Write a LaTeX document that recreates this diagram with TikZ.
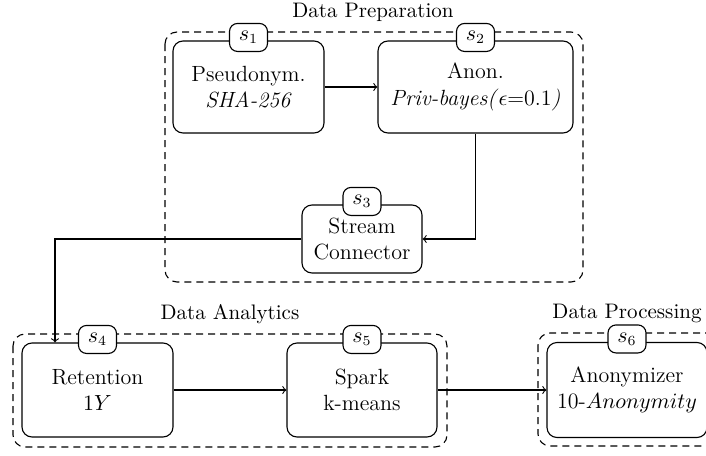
\documentclass[tikz,border=0pt]{standalone}
\usetikzlibrary{calc}
\begin{document}
\begin{tikzpicture}[x=0.5pt,y=-0.5pt, line width=0.55pt,
  stage/.style={draw, rounded corners=5pt, align=center, fill=white, inner sep=2pt, font=\fontsize{11}{13.2}\selectfont},
  tag/.style={draw, rounded corners=4pt, fill=white, minimum width=19pt, minimum height=14pt, inner sep=1pt, yshift=1.5pt, font=\fontsize{10.5}{12.6}\selectfont},
  groupbox/.style={draw, dash pattern=on 3.5pt off 2.5pt, rounded corners=6pt},
  grouplabel/.style={inner sep=0pt, font=\fontsize{10.5}{12.6}\selectfont},
  conn/.style={->}]
\useasboundingbox (0,0) rectangle (706,455);
\clip (0,0) rectangle (706,455);
% groups
\draw[groupbox] (165,32) rectangle (583,282);
\draw[groupbox] (13,334) rectangle (447,447);
\draw[groupbox] (538,333) rectangle (730,446);
\node[grouplabel] (lprep) at (373,12) {Data Preparation};
\node[grouplabel] (lana) at (230,314) {Data Analytics};
\node[grouplabel] (lproc) at (627,313) {Data Processing};
% stages
\node[stage, minimum width=75.5pt, minimum height=46pt] (s1) at (248.5,87) {Pseudonym.\\ \textit{SHA-256}};
\node[stage, minimum width=97.5pt, minimum height=46pt] (s2) at (475.5,87) {Anon.\\ \textit{Priv-bayes(}$\epsilon${=}0.1\textit{)}};
\node[stage, minimum width=60pt, minimum height=34pt] (s3) at (362,239) {Stream\\ Connector};
\node[stage, minimum width=75.5pt, minimum height=47pt] (s4) at (97.5,390) {Retention\\ $1Y$};
\node[stage, minimum width=75pt, minimum height=47pt] (s5) at (362,390) {Spark\\ k-means};
\node[stage, minimum width=80pt, minimum height=47.5pt] (s6) at (627,390) {Anonymizer\\ 10-$Anonymity$};
% tags
\node[tag] (t1) at (s1.north) {$s_1$};
\node[tag] (t2) at (s2.north) {$s_2$};
\node[tag] (t3) at (s3.north) {$s_3$};
\node[tag] (t4) at (s4.north) {$s_4$};
\node[tag] (t5) at (s5.north) {$s_5$};
\node[tag] (t6) at (s6.north) {$s_6$};
% connectors
\coordinate (bend) at (55,239);
\draw[conn] (s1.east) -- (s2.west);
\draw[conn] (s2.south) |- (s3.east);
\draw[conn] (s3.west) -- (bend) -- (bend |- s4.north);
\draw[conn] (s4.east) -- (s5.west);
\draw[conn] (s5.east) -- (s6.west);
\end{tikzpicture}
\end{document}
